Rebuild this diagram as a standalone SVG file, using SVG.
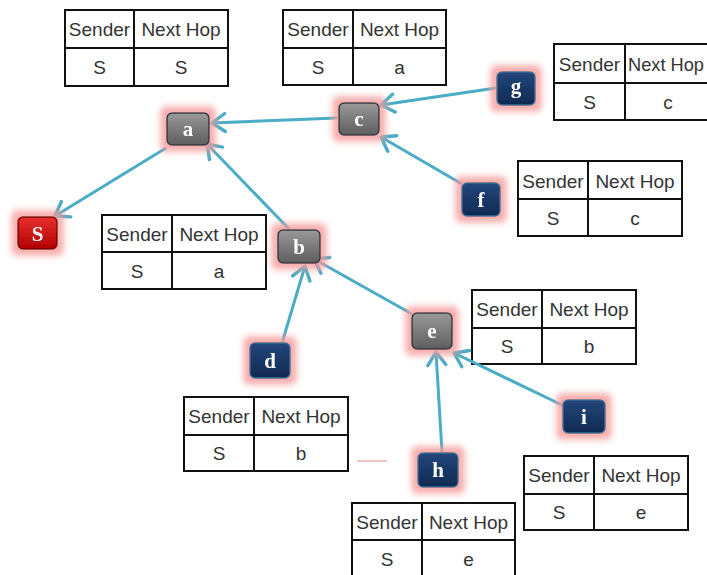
<svg xmlns="http://www.w3.org/2000/svg" width="707" height="575" viewBox="0 0 707 575">
<defs>
<style>
.tb rect,.tb line{fill:none;stroke:#111;stroke-width:2}
.tb rect{fill:#fff}
.tt{font-family:"Liberation Sans",Arial,sans-serif;font-size:19px;fill:#333;text-anchor:middle}
.lbl{font-family:"Liberation Serif","Times New Roman",serif;font-weight:bold;font-size:21px;fill:#fff;text-anchor:middle}
.con line{stroke:#4bacc6;stroke-width:3;marker-end:url(#ah)}
.gray{fill:url(#gG);stroke:#2e3b40;stroke-width:1.5}
.navy{fill:url(#gN);stroke:#3b6f8f;stroke-width:1.5}
.red{fill:url(#gR);stroke:#7a0000;stroke-width:1.5}
</style>
<linearGradient id="gG" x1="0" y1="0" x2="0" y2="1"><stop offset="0" stop-color="#9a9a9a"/><stop offset="0.5" stop-color="#7b7b7b"/><stop offset="1" stop-color="#5e5e5e"/></linearGradient>
<linearGradient id="gN" x1="0" y1="0" x2="0" y2="1"><stop offset="0" stop-color="#23467a"/><stop offset="1" stop-color="#0f2a52"/></linearGradient>
<linearGradient id="gR" x1="0" y1="0" x2="0" y2="1"><stop offset="0" stop-color="#e83030"/><stop offset="1" stop-color="#b00000"/></linearGradient>
<filter id="glow" x="-60%" y="-60%" width="220%" height="220%">
<feMorphology in="SourceAlpha" operator="dilate" radius="6" result="d"/>
<feGaussianBlur in="d" stdDeviation="3" result="b"/>
<feFlood flood-color="#f59a9a" flood-opacity="0.8"/>
<feComposite in2="b" operator="in" result="g"/>
<feMerge><feMergeNode in="g"/><feMergeNode in="SourceGraphic"/></feMerge>
</filter>
<marker id="ah" markerUnits="userSpaceOnUse" markerWidth="22" markerHeight="22" refX="16" refY="11" orient="auto" viewBox="0 0 22 22">
<path d="M3,2 L16,11 L3,20" fill="none" stroke="#4bacc6" stroke-width="3.4" stroke-linecap="round" stroke-linejoin="round"/>
</marker>
</defs>
<rect width="707" height="575" fill="#fff"/>

<g id="tables">
<g id="t1" class="tb"><rect x="65" y="10" width="163" height="76"/><line x1="65" y1="48" x2="228" y2="48"/><line x1="134" y1="10" x2="134" y2="86"/>
<text class="tt" x="99.5" y="36">Sender</text><text class="tt" x="181" y="36">Next Hop</text><text class="tt" x="99.5" y="74">S</text><text class="tt" x="181" y="74">S</text></g>
<g id="t2" class="tb"><rect x="283" y="10" width="163" height="75"/><line x1="283" y1="48" x2="446" y2="48"/><line x1="353" y1="10" x2="353" y2="85"/>
<text class="tt" x="318" y="36">Sender</text><text class="tt" x="399.5" y="36">Next Hop</text><text class="tt" x="318" y="74">S</text><text class="tt" x="399.5" y="74">a</text></g>
<g id="t3" class="tb"><rect x="554" y="44" width="163" height="76"/><line x1="554" y1="83" x2="717" y2="83"/><line x1="625" y1="44" x2="625" y2="120"/>
<text class="tt" x="589.5" y="71">Sender</text><text class="tt" x="666" y="71" textLength="76" lengthAdjust="spacingAndGlyphs">Next Hop</text><text class="tt" x="589.5" y="109">S</text><text class="tt" x="668" y="109">c</text></g>
<g id="t4" class="tb"><rect x="518" y="161" width="164" height="75"/><line x1="518" y1="199" x2="682" y2="199"/><line x1="588" y1="161" x2="588" y2="236"/>
<text class="tt" x="553" y="188">Sender</text><text class="tt" x="635" y="188">Next Hop</text><text class="tt" x="553" y="225">S</text><text class="tt" x="635" y="225">c</text></g>
<g id="t5" class="tb"><rect x="102" y="215" width="164" height="74"/><line x1="102" y1="252" x2="266" y2="252"/><line x1="172" y1="215" x2="172" y2="289"/>
<text class="tt" x="137" y="241">Sender</text><text class="tt" x="219" y="241">Next Hop</text><text class="tt" x="137" y="278">S</text><text class="tt" x="219" y="278">a</text></g>
<g id="t6" class="tb"><rect x="472" y="290" width="164" height="74"/><line x1="472" y1="328" x2="636" y2="328"/><line x1="542" y1="290" x2="542" y2="364"/>
<text class="tt" x="507" y="316">Sender</text><text class="tt" x="589" y="316">Next Hop</text><text class="tt" x="507" y="353">S</text><text class="tt" x="589" y="353">b</text></g>
<g id="t7" class="tb"><rect x="184" y="397" width="164" height="74"/><line x1="184" y1="435" x2="348" y2="435"/><line x1="254" y1="397" x2="254" y2="471"/>
<text class="tt" x="219" y="423">Sender</text><text class="tt" x="301" y="423">Next Hop</text><text class="tt" x="219" y="460">S</text><text class="tt" x="301" y="460">b</text></g>
<g id="t8" class="tb"><rect x="524" y="456" width="164" height="74"/><line x1="524" y1="494" x2="688" y2="494"/><line x1="594" y1="456" x2="594" y2="530"/>
<text class="tt" x="559" y="482">Sender</text><text class="tt" x="641" y="482">Next Hop</text><text class="tt" x="559" y="519">S</text><text class="tt" x="641" y="519">e</text></g>
<g id="t9" class="tb"><rect x="352" y="503" width="163" height="76"/><line x1="352" y1="540" x2="515" y2="540"/><line x1="422" y1="503" x2="422" y2="579"/>
<text class="tt" x="387" y="529">Sender</text><text class="tt" x="468.5" y="529">Next Hop</text><text class="tt" x="387" y="566">S</text><text class="tt" x="468.5" y="566">e</text></g>
</g>

<line x1="357" y1="461" x2="387" y2="461" stroke="#f7c4c4" stroke-width="2"/>

<g id="connectors" class="con">
<line x1="166" y1="148" x2="55" y2="216"/>
<line x1="337" y1="118" x2="212" y2="123"/>
<line x1="496" y1="88" x2="381" y2="105"/>
<line x1="462" y1="184" x2="381" y2="137"/>
<line x1="289" y1="229" x2="207" y2="144"/>
<line x1="282" y1="343" x2="305" y2="266"/>
<line x1="412" y1="314" x2="314" y2="259"/>
<line x1="442" y1="452" x2="436" y2="352"/>
<line x1="564" y1="406" x2="454" y2="353"/>
</g>

<g id="node-a" filter="url(#glow)"><rect class="gray" x="167" y="113" width="42" height="32" rx="5"/><text class="lbl" x="188" y="136">a</text></g>
<g id="node-S" filter="url(#glow)"><rect class="red" x="18" y="217" width="39" height="32" rx="5"/><text class="lbl" x="37.5" y="241">S</text></g>
<g id="node-c" filter="url(#glow)"><rect class="gray" x="339" y="103" width="40" height="32" rx="5"/><text class="lbl" x="359" y="126">c</text></g>
<g id="node-g" filter="url(#glow)"><rect class="navy" x="497" y="72" width="38" height="33" rx="5"/><text class="lbl" x="516" y="93">g</text></g>
<g id="node-f" filter="url(#glow)"><rect class="navy" x="462" y="183" width="38" height="33" rx="5"/><text class="lbl" x="481" y="207">f</text></g>
<g id="node-b" filter="url(#glow)"><rect class="gray" x="278" y="230" width="42" height="33" rx="5"/><text class="lbl" x="299" y="254">b</text></g>
<g id="node-d" filter="url(#glow)"><rect class="navy" x="250" y="343" width="40" height="35" rx="5"/><text class="lbl" x="270" y="368">d</text></g>
<g id="node-e" filter="url(#glow)"><rect class="gray" x="412" y="313" width="40" height="36" rx="5"/><text class="lbl" x="432" y="338">e</text></g>
<g id="node-h" filter="url(#glow)"><rect class="navy" x="418" y="453" width="40" height="34" rx="5"/><text class="lbl" x="438" y="477">h</text></g>
<g id="node-i" filter="url(#glow)"><rect class="navy" x="563" y="400" width="42" height="33" rx="5"/><text class="lbl" x="584" y="424">i</text></g>
</svg>
